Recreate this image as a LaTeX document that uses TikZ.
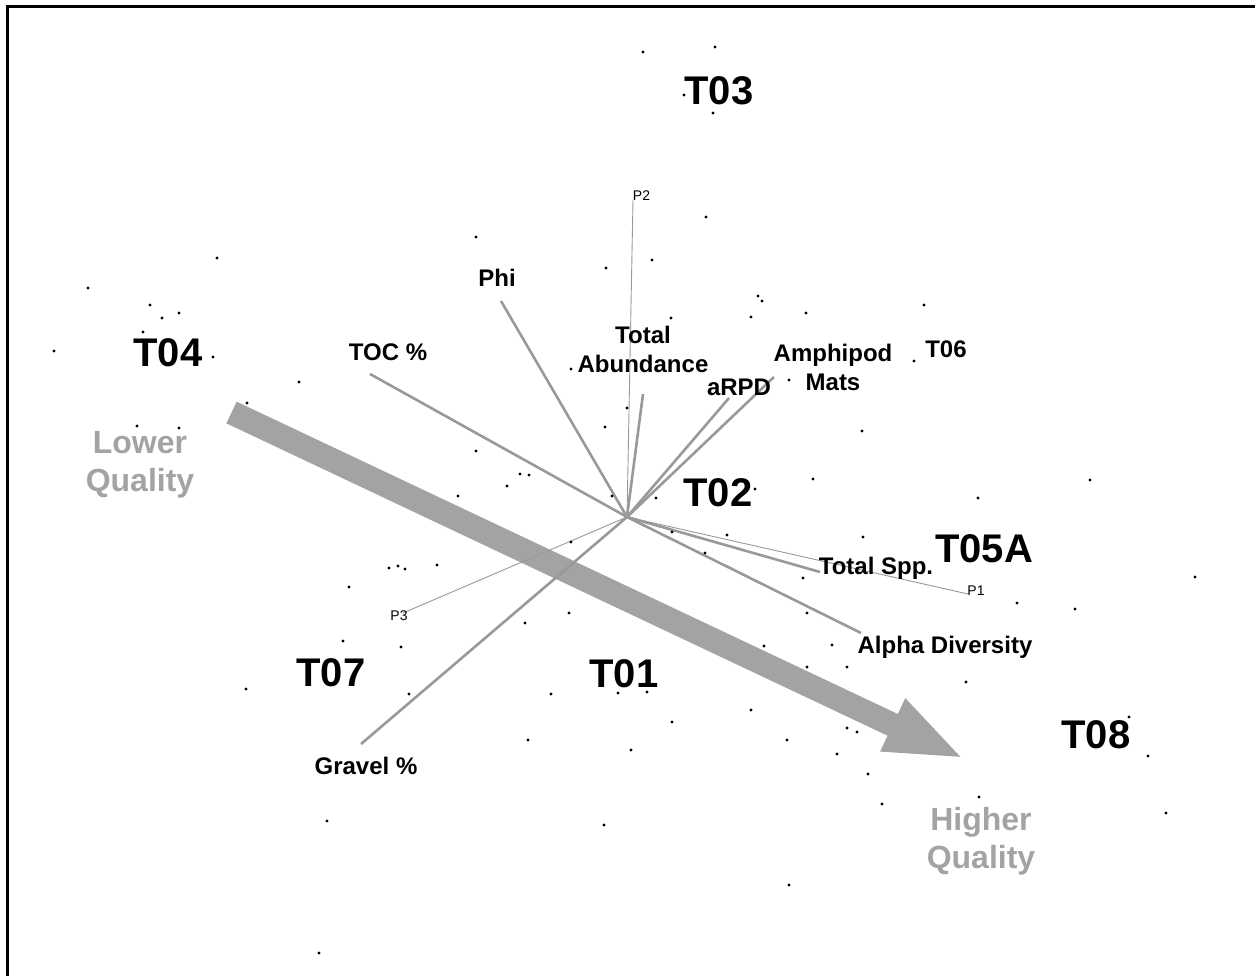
\documentclass[tikz,border=0pt]{standalone}
\usepackage{fontspec}
\setmainfont{Liberation Sans}
\usepackage{xcolor}
\usetikzlibrary{arrows.meta}

\definecolor{vecgray}{gray}{0.6}
\definecolor{qualgray}{gray}{0.64}

\tikzset{
  site/.style={font=\fontsize{40}{48}\selectfont\bfseries, inner sep=0pt, anchor=base},
  varlab/.style={font=\fontsize{24}{29}\selectfont\bfseries, inner sep=0pt, anchor=base, align=center},
  plab/.style={font=\fontsize{14}{17}\selectfont, inner sep=0pt, anchor=base},
  qlab/.style={font=\fontsize{32}{38}\selectfont\bfseries, text=qualgray, inner sep=0pt, anchor=base, align=center},
  vec/.style={draw=vecgray, line width=2.6pt},
  pvec/.style={draw=vecgray, line width=0.9pt},
  sample/.style={fill=black},
  bigarrow/.style={draw=qualgray, line width=24pt, -{Triangle[length=80pt,width=52pt]}}
}

\begin{document}
\begin{tikzpicture}[x=1pt,y=-1pt]
\useasboundingbox (0,0) rectangle (1255,976);

%Frame
\draw[line width=3pt] (7.5,976) -- (7.5,6.5) -- (1255,6.5);

%Quality arrow
\coordinate (lowq) at (231.5,412.5);
\coordinate (highq) at (965,759);
\draw[bigarrow] (lowq) -- (highq);
\node[qlab] (lower) at (140,491) {Lower\\Quality};
\node[qlab] (higher) at (981,868) {Higher\\Quality};

%Vector ends
\coordinate (O) at (627,517);
\coordinate (phiend) at (501,301);
\coordinate (tocend) at (370,374);
\coordinate (abuend) at (643,394);
\coordinate (rpdend) at (729,398);
\coordinate (ampend) at (774,377);
\coordinate (sppend) at (820,572);
\coordinate (alphaend) at (861,633);
\coordinate (gravend) at (361,744);
\coordinate (p1end) at (968,594);
\coordinate (p2end) at (633,200);
\coordinate (p3end) at (403,613);

%Vectors
\draw[pvec] (O) -- (p1end);
\draw[pvec] (O) -- (p2end);
\draw[pvec] (O) -- (p3end);
\foreach \e in {phiend,tocend,abuend,rpdend,ampend,sppend,alphaend,gravend}
  \draw[vec] (O) -- (\e);

%Vector labels
\node[varlab] (phi) at (497,287) {Phi};
\node[varlab] (toc) at (388,360) {TOC \%};
\node[varlab] (abu) at (643,372) {Total\\Abundance};
\node[varlab] (rpd) at (739,395) {aRPD};
\node[varlab] (amp) at (833,390) {Amphipod\\Mats};
\node[varlab] (spp) at (876,574) {Total Spp.};
\node[varlab] (alpha) at (945,653) {Alpha Diversity};
\node[varlab] (grav) at (366,774) {Gravel \%};
\node[plab] (p1) at (976,595) {P1};
\node[plab] (p2) at (641.5,201) {P2};
\node[plab] (p3) at (399,620) {P3};

%Sites
\node[site] (t03) at (719,105) {T03};
\node[site] (t04) at (168,366) {T04};
\node[site] (t02) at (718,506) {T02};
\node[site] (t05a) at (984,562) {T05A};
\node[site] (t07) at (331,686) {T07};
\node[site] (t01) at (624,687) {T01};
\node[site] (t08) at (1096,748) {T08};
\node[varlab] (t06) at (946,357) {T06};

%Samples
\foreach \p in {(643,52),(715,47),(684,95),(713,113),(706,217),(476,237),(652,260),
  (606,268),(217,258),(88,288),(150,305),(179,313),(162,318),(143,332),(758,296),
  (762,301),(751,317),(806,313),(671,318),(924,305),(54,351),(213,357),(571,369),
  (914,361),(789,380),(299,382),(247,403),(627,408),(605,427),(137,426),(179,428),
  (862,431),(476,451),(520,474),(529,475),(507,486),(458,496),(612,496),(656,498),
  (755,489),(813,479),(978,498),(1090,480),(672,532),(727,535),(863,537),(571,542),
  (705,553),(389,568),(398,566),(405,569),(437,565),(349,587),(803,578),(1195,577),
  (1017,603),(1075,609),(569,613),(807,613),(525,623),(401,647),(343,641),(764,646),
  (832,645),(807,667),(847,667),(246,689),(409,694),(551,694),(618,693),(647,692),
  (751,710),(672,722),(528,740),(631,750),(787,740),(837,754),(847,728),(857,732),
  (966,682),(1129,717),(1148,756),(868,774),(882,804),(979,797),(1166,813),(327,821),
  (604,825),(789,885),(319,953)}
  \fill[sample] \p circle (1.6pt);

\end{tikzpicture}
\end{document}
